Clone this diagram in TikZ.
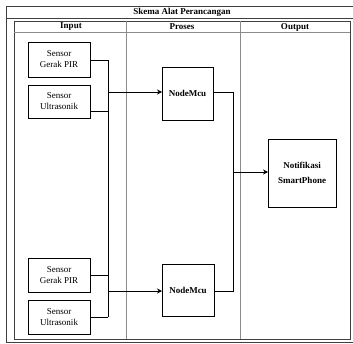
\documentclass[tikz,border=0pt]{standalone}
\usepackage{fontspec}
\setmainfont{Liberation Serif}
\usetikzlibrary{arrows.meta}
\begin{document}
\begin{tikzpicture}[x=1pt,y=-1pt,
 box/.style={draw=black,line width=1pt,inner sep=0pt,outer sep=0pt,align=center,font=\fontsize{9}{11}\selectfont},
 boldbox/.style={box,font=\fontsize{9}{15}\selectfont\bfseries},
 conn/.style={line width=1pt,black},
 arr/.style={conn,-{Stealth[length=5pt,width=5pt]}},
 frameline/.style={draw=black!75,line width=0.9pt},
 lane/.style={draw=black!45,line width=0.8pt},
 lbl/.style={font=\fontsize{9}{11}\selectfont\bfseries,inner sep=0pt}]
\useasboundingbox (0,0) rectangle (353,343);
% outer frame
\draw[frameline] (353,6) -- (6,6) -- (6,342) -- (353,342);
\draw[frameline] (6,18) -- (353,18);
\node[lbl] (title) at (182,12.5) {Skema Alat Perancangan};
% inner frame
\draw[frameline] (14,21) rectangle (350,339);
\draw[lane] (14,32) -- (350,32);
\draw[lane] (126,21) -- (126,339);
\draw[lane] (240,21) -- (240,339);
\node[lbl] (hin) at (71,27) {Input};
\node[lbl] (hpr) at (182,27) {Proses};
\node[lbl] (hout) at (295,27) {Output};
% sensors
\node[box,minimum width=62pt,minimum height=35pt] (s1) at (59,59.5) {Sensor\\Gerak PIR};
\node[box,minimum width=62pt,minimum height=33pt] (s2) at (59,101.5) {Sensor\\Ultrasonik};
\node[box,minimum width=62pt,minimum height=34pt] (s3) at (59,275) {Sensor\\Gerak PIR};
\node[box,minimum width=62pt,minimum height=34pt] (s4) at (59,317) {Sensor\\Ultrasonik};
% processors
\node[boldbox,minimum width=51pt,minimum height=53pt] (n1) at (187.5,93.5) {NodeMcu};
\node[boldbox,minimum width=52pt,minimum height=52pt] (n2) at (188,290) {NodeMcu};
% output
\node[boldbox,minimum width=68pt,minimum height=68pt] (out) at (302,173) {Notifikasi\\SmartPhone};
% junction points
\coordinate (bt) at (108,60);
\coordinate (b2) at (108,111);
\coordinate (b3) at (108,275);
\coordinate (bb) at (108,317);
\coordinate (j1) at (108,92);
\coordinate (j2) at (108,291);
\coordinate (k1) at (233,92);
\coordinate (k2) at (233,291);
\coordinate (k3) at (233,172);
% connectors
\draw[conn] (s1.east |- bt) -- (bt);
\draw[conn] (s2.east |- b2) -- (b2);
\draw[conn] (s3.east |- b3) -- (b3);
\draw[conn] (s4.east |- bb) -- (bb);
\draw[conn] (bt) -- (bb);
\draw[arr] (j1) -- (n1.west |- j1);
\draw[arr] (j2) -- (n2.west |- j2);
\draw[conn] (n1.east |- k1) -- (k1) -- (k2) -- (n2.east |- k2);
\draw[arr] (k3) -- (out.west |- k3);
\end{tikzpicture}
\end{document}
